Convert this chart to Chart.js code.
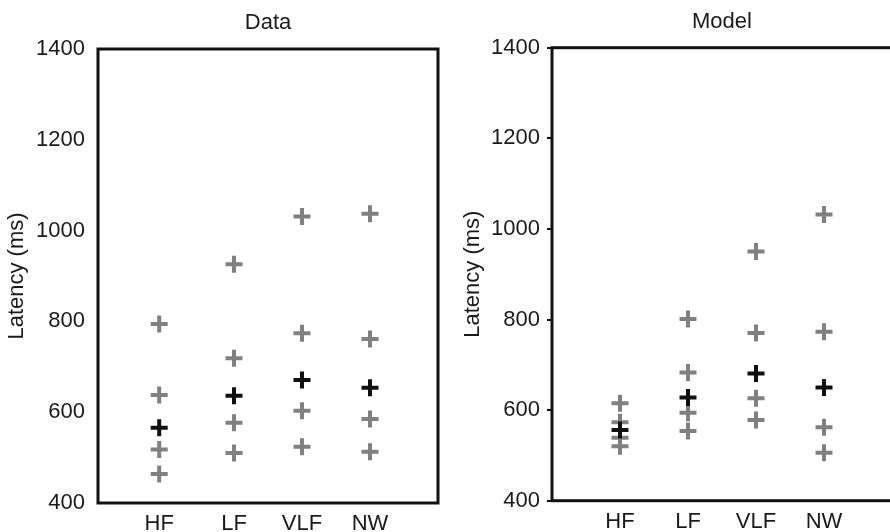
<!DOCTYPE html>
<html>
<head>
<meta charset="utf-8">
<script src="https://cdn.jsdelivr.net/npm/chart.js@4/dist/chart.umd.min.js"></script>
<style>
  html, body { margin: 0; padding: 0; background: #fff; overflow: hidden; width: 890px; height: 532px; }
  .panel { position: absolute; top: 0; }
</style>
</head>
<body>
<div class="panel" style="left:0px;"><canvas id="c1" width="445" height="532"></canvas></div>
<div class="panel" style="left:445px;"><canvas id="c2" width="460" height="532"></canvas></div>
<script>
// ---- data ----
const categories = ['HF', 'LF', 'VLF', 'NW'];
const yTicks = [400, 600, 800, 1000, 1200, 1400];

// "Data" panel
const dataXPositions = [0.9, 2, 3, 4];
const dataIndividual = [
  [794, 638, 518, 464],    // HF
  [926, 719, 577, 510],    // LF
  [1031, 774, 603, 524],   // VLF
  [1037, 761, 585, 513]    // NW
];
const dataMean = [566, 636, 671, 654];

// "Model" panel
const modelXPositions = [1, 2, 3, 4];
const modelIndividual = [
  [615, 573, 539, 520],    // HF
  [801, 683, 594, 554],    // LF
  [950, 770, 626, 578],    // VLF
  [1032, 773, 562, 506]    // NW
];
const modelMean = [556, 628, 681, 650];

// ---- styling ----
const FONT = "'Liberation Sans', Arial, sans-serif";
const TEXT = '#1a1a1a';
const GREY = '#808080';
const BLACK = '#111111';

const framePlugin = {
  id: 'frame',
  beforeDatasetsDraw(chart) {
    const { ctx, chartArea: a } = chart;
    ctx.save();
    ctx.strokeStyle = BLACK;
    ctx.lineWidth = 3;
    ctx.lineJoin = 'miter';
    ctx.strokeRect(a.left, a.top, a.right - a.left, a.bottom - a.top);
    ctx.restore();
  }
};

function toPoints(xs, rows) {
  const pts = [];
  rows.forEach((vals, i) => vals.forEach(v => pts.push({ x: xs[i], y: v })));
  return pts;
}

function makeChart(id, cfg) {
  const meanPts = cfg.mean.map((v, i) => ({ x: cfg.xs[i], y: v }));
  const indPts = toPoints(cfg.xs, cfg.individual);
  return new Chart(document.getElementById(id), {
    type: 'scatter',
    data: {
      datasets: [
        { label: 'mean', data: meanPts, pointStyle: 'cross', pointRadius: 8.5, pointHoverRadius: 8.5,
          borderColor: BLACK, backgroundColor: BLACK, pointBorderWidth: 4, pointHoverBorderWidth: 4 },
        { label: 'individual', data: indPts, pointStyle: 'cross', pointRadius: 8.5, pointHoverRadius: 8.5,
          borderColor: GREY, backgroundColor: GREY, pointBorderWidth: 4, pointHoverBorderWidth: 4 }
      ]
    },
    options: {
      responsive: false,
      animation: false,
      events: [],
      layout: { autoPadding: false, padding: { left: 0, right: cfg.padRight, top: 0, bottom: 0 } },
      plugins: {
        legend: { display: false },
        tooltip: { enabled: false },
        title: { display: false }
      },
      scales: {
        xTop: {
          type: 'linear', position: 'top', min: 0, max: 5,
          afterFit: (s) => { s.height = cfg.topHeight; },
          grid: { display: false, drawTicks: false },
          border: { display: false },
          ticks: { display: false },
          title: {
            display: true, text: cfg.title, color: TEXT,
            font: { family: FONT, size: 22, lineHeight: 1.2 },
            padding: { top: cfg.titleTop, bottom: 0 }
          }
        },
        x: {
          type: 'linear', position: 'bottom', min: 0, max: 5,
          afterBuildTicks: (axis) => { axis.ticks = cfg.xs.map(v => ({ value: v })); },
          afterFit: (s) => { s.height = cfg.xHeight; },
          grid: { display: false, drawTicks: false },
          border: { display: false },
          ticks: {
            autoSkip: false, maxRotation: 0, padding: 8, color: TEXT,
            font: { family: FONT, size: 22 },
            callback: (v, i) => categories[i]
          }
        },
        y: {
          type: 'linear', min: yTicks[0], max: yTicks[yTicks.length - 1],
          afterBuildTicks: (axis) => { axis.ticks = yTicks.map(v => ({ value: v })); },
          afterFit: (s) => { s.width = cfg.yWidth; },
          grid: cfg.yTickMarks
            ? { display: true, drawOnChartArea: false, drawTicks: true, tickLength: 5, color: BLACK, lineWidth: 2 }
            : { display: false, drawTicks: false },
          border: { display: false },
          ticks: {
            padding: cfg.yPad, color: TEXT,
            font: { family: FONT, size: 22 },
            callback: (v) => String(v)
          },
          title: {
            display: true, text: 'Latency (ms)', color: TEXT,
            font: { family: FONT, size: 22, lineHeight: 1.2 },
            padding: { top: cfg.yTitleTop, bottom: 0 }
          }
        }
      }
    },
    plugins: [framePlugin]
  });
}

makeChart('c1', {
  title: 'Data', xs: dataXPositions, individual: dataIndividual, mean: dataMean,
  padRight: 7, yWidth: 98, xHeight: 29, topHeight: 49, yPad: 13, yTickMarks: false, yTitleTop: 4,
  titleTop: 10
});
makeChart('c2', {
  title: 'Model', xs: modelXPositions, individual: modelIndividual, mean: modelMean,
  padRight: 13, yWidth: 107, xHeight: 31.3, topHeight: 47.7, yPad: 7, yTickMarks: true, yTitleTop: 15,
  titleTop: 9
});
</script>
</body>
</html>
